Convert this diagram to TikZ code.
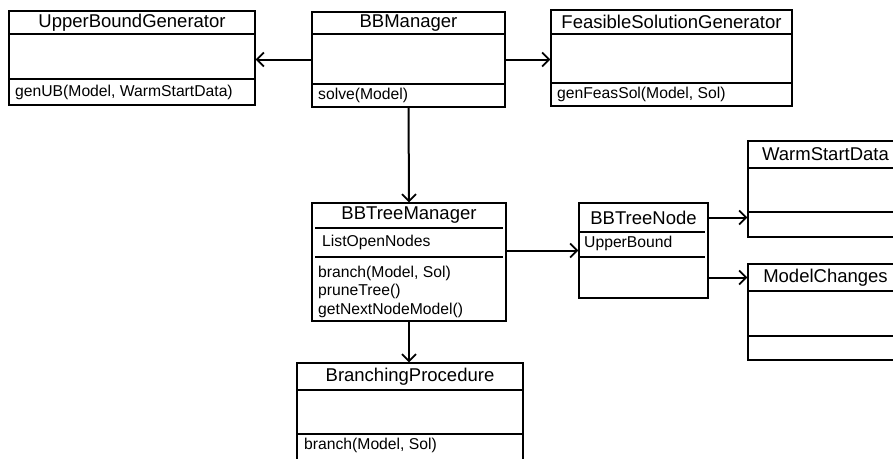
\documentclass[tikz,border=0pt]{standalone}
\usepackage{fontspec}
\setmainfont{Liberation Sans}
\usetikzlibrary{arrows.meta,fit}
\tikzset{
  boxline/.style={draw=black,line width=1.2pt},
  classbox/.style={boxline,inner sep=0pt,fill=none},
  ctitle/.style={inner sep=0pt,font=\fontsize{18.5}{22}\selectfont},
  cbody/.style={inner sep=0pt,anchor=west,align=left,font=\fontsize{15.7}{18.5}\selectfont},
  arr/.style={line width=2pt,-{Straight Barb[length=7pt,width=14pt,line width=1.8pt]}},
}
\newcommand\sepline[3]{\draw[boxline] (#1,#3) -- (#2,#3);}
\begin{document}
\begin{tikzpicture}[x=1pt,y=-1pt]
\useasboundingbox (0,0) rectangle (893,458);
\clip (0,0) rectangle (893,458);
% UpperBoundGenerator
\node[classbox,fit={(9,11)(255,105)}] (ubg) {};
\sepline{9}{255}{34}\sepline{9}{255}{79}
\node[ctitle] (ubg-t) at (132,22.5) {UpperBoundGenerator};
\node[cbody] (ubg-m) at (15,92) {genUB(Model, WarmStartData)};
% BBManager
\node[classbox,fit={(312,12)(505,107)}] (bbm) {};
\sepline{312}{505}{34}\sepline{312}{505}{84}
\node[ctitle] (bbm-t) at (408.5,23) {BBManager};
\node[cbody] (bbm-m) at (318,95.5) {solve(Model)};
% FeasibleSolutionGenerator
\node[classbox,fit={(551,10)(792,106)}] (fsg) {};
\sepline{551}{792}{34}\sepline{551}{792}{83}
\node[ctitle] (fsg-t) at (671.5,22) {FeasibleSolutionGenerator};
\node[cbody] (fsg-m) at (557,94.5) {genFeasSol(Model, Sol)};
% BBTreeManager
\node[classbox,fit={(312,203)(506,321)}] (btm) {};
\sepline{315}{503}{228}\sepline{315}{503}{257}
\node[ctitle] (btm-t) at (409,215.5) {BBTreeManager};
\node[cbody] (btm-a) at (322,242.5) {ListOpenNodes};
\node[cbody] (btm-m) at (318,291.5) {branch(Model, Sol)\\pruneTree()\\getNextNodeModel()};
% BBTreeNode
\node[classbox,fit={(579,203)(708,298)}] (btn) {};
\sepline{579}{705}{232}\sepline{579}{705}{257}
\node[ctitle] (btn-t) at (643.5,217.5) {BBTreeNode};
\node[cbody] (btn-a) at (584,243) {UpperBound};
% WarmStartData
\node[classbox,fit={(748,141)(903,237)}] (wsd) {};
\sepline{748}{903}{168}\sepline{748}{903}{212}
\node[ctitle] (wsd-t) at (825.5,154.5) {WarmStartData};
% ModelChanges
\node[classbox,fit={(748,264)(903,360)}] (mc) {};
\sepline{748}{903}{291}\sepline{748}{903}{336}
\node[ctitle] (mc-t) at (825.5,277.5) {ModelChanges};
% BranchingProcedure
\node[classbox,fit={(297,363)(523,470)}] (bp) {};
\sepline{297}{523}{390}\sepline{297}{523}{434}
\node[ctitle] (bp-t) at (410,376.5) {BranchingProcedure};
\node[cbody] (bp-m) at (304,445) {branch(Model, Sol)};
% connectors
\draw[arr] (bbm.west) -- (bbm.west -| ubg.east);
\draw[arr] (bbm.east) -- (bbm.east -| fsg.west);
\draw[arr] (bbm.south) -- (btm.north);
\draw[arr] (btm.south) -- (btm.south |- bp.north);
\draw[arr] (btm.east |- btn.west) -- (btn.west);
\draw[arr] (btn.east |- btn-t) -- (wsd.west |- btn-t);
\draw[arr] (btn.east |- mc-t) -- (mc.west |- mc-t);
\end{tikzpicture}
\end{document}
